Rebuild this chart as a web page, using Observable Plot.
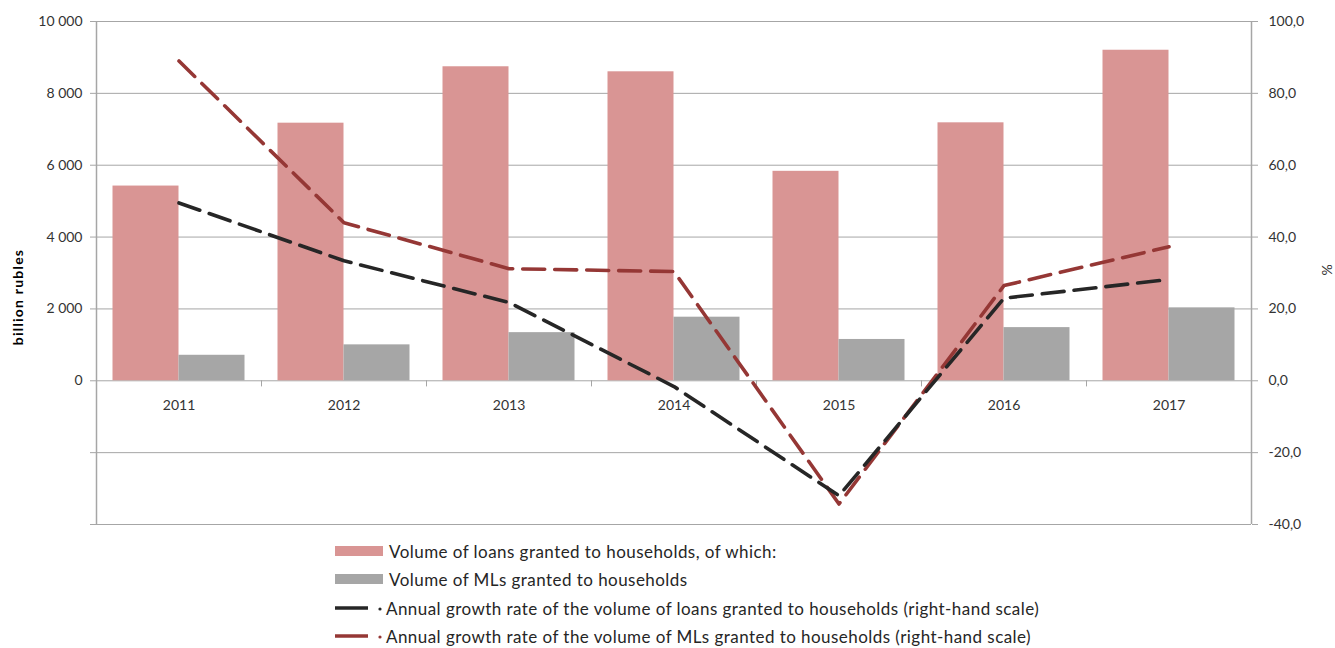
<!DOCTYPE html>
<html><head><meta charset="utf-8">
<script src="https://cdn.jsdelivr.net/npm/d3@7"></script>
<script src="https://cdn.jsdelivr.net/npm/@observablehq/plot@0.6"></script>
<style>
body{margin:0;background:#fff;font-family:Lato, "Open Sans", sans-serif;}
#wrap{position:relative;width:1335px;height:648px;overflow:hidden;}
.leg{position:absolute;left:335px;display:flex;align-items:center;font-size:17px;letter-spacing:0.45px;color:#262626;height:20px;white-space:nowrap;}
.leg svg{flex:none;margin-right:6px;}
</style></head><body><div id="wrap"><div id="chart"></div>
<div id="legend"></div>
</div>
<script>
const years = [2011, 2012, 2013, 2014, 2015, 2016, 2017];
const loans = [5420, 7170, 8740, 8600, 5830, 7180, 9200];
const mls = [710, 1000, 1340, 1770, 1150, 1480, 2030];
const growthLoans = [49.5, 33.4, 21.8, -1.6, -32.0, 23.0, 28.2];
const growthMls = [89.0, 44.0, 31.2, 30.4, -34.3, 26.5, 37.3];
const leftTicks = [-4000, -2000, 0, 2000, 4000, 6000, 8000, 10000];
const legendLabels = [
  "Volume of loans granted to households, of which:",
  "Volume of MLs granted to households",
  "Annual growth rate of the volume of loans granted to households (right-hand scale)",
  "Annual growth rate of the volume of MLs granted to households (right-hand scale)"
];
const colors = {loans: "#d99594", mls: "#a6a6a6", gLoans: "#262626", gMls: "#953735"};

const rows = years.map((y, i) => ({year: y, i, loans: loans[i], mls: mls[i], gl: growthLoans[i], gm: growthMls[i]}));
const grid = "#a6a6a6";
const fmtLeft = d => d < 0 ? "" : d3.format(",")(d).replace(/,/g, "\u00a0");
const fmtRight = d => (d / 100).toFixed(1).replace(".", ",");

const chart = Plot.plot({
  width: 1335, height: 535,
  marginLeft: 96, marginRight: 84, marginTop: 21, marginBottom: 11,
  style: {fontFamily: "Lato, 'Open Sans', sans-serif", color: "#333"},
  x: {domain: [0, 7], axis: null},
  y: {domain: [-4000, 10000], axis: null},
  marks: [
    Plot.gridY(leftTicks, {stroke: grid, strokeOpacity: 1}),
    Plot.ruleX([0, 7], {stroke: grid, strokeWidth: 1.5}),
    Plot.ruleX(d3.range(1, 7), {y1: 0, y2: -170, stroke: grid}),
    Plot.axisY(leftTicks, {anchor: "left", tickFormat: fmtLeft, tickSize: 6, tickPadding: 8, stroke: grid, fontSize: 14, fill: "#333", label: null}),
    Plot.axisY(leftTicks, {anchor: "right", tickFormat: fmtRight, tickSize: 6, tickPadding: 11, stroke: grid, fontSize: 14, fill: "#333", label: null}),
    Plot.rectY(rows, {x1: d => d.i + 0.1, x2: d => d.i + 0.5, y1: 0, y2: "loans", fill: colors.loans}),
    Plot.rectY(rows, {x1: d => d.i + 0.5, x2: d => d.i + 0.9, y1: 0, y2: "mls", fill: colors.mls}),
    Plot.text(rows, {x: d => d.i + 0.5, y: 0, text: d => String(d.year), dy: 25, fontSize: 14, fill: "#333"}),
    Plot.lineY(rows, {x: d => d.i + 0.5, y: d => d.gm * 100, stroke: colors.gMls, strokeWidth: 3.6, strokeDasharray: "22,10"}),
    Plot.lineY(rows, {x: d => d.i + 0.5, y: d => d.gl * 100, stroke: colors.gLoans, strokeWidth: 3.6, strokeDasharray: "22,10"}),
    Plot.text(["billion rubles"], {frameAnchor: "left", textAnchor: "middle", dx: -78, dy: 24, rotate: -90, fontWeight: "bold", fontSize: 14, fill: "#000"}),
    Plot.text(["%"], {frameAnchor: "right", textAnchor: "middle", dx: 76, dy: -3, rotate: -90, fontSize: 14, fill: "#333"})
  ]
});
d3.select(chart).selectAll("text").filter(function() { return this.textContent === "billion rubles"; }).style("letter-spacing", "1.2px");
document.getElementById("chart").appendChild(chart);

const legend = document.getElementById("legend");
const tops = [541, 569, 598, 626];
const kinds = ["rect", "rect", "line", "line"];
const swColors = [colors.loans, colors.mls, colors.gLoans, colors.gMls];
legendLabels.forEach((t, k) => {
  const div = document.createElement("div");
  div.className = "leg";
  div.style.top = tops[k] + "px";
  let sw;
  if (kinds[k] === "rect") {
    sw = `<svg width="48" height="12"><rect x="0" y="1" width="48" height="10" fill="${swColors[k]}"/></svg>`;
  } else {
    sw = `<svg width="48" height="12" style="margin-right:3px"><line x1="0" x2="33" y1="6" y2="6" stroke="${swColors[k]}" stroke-width="3.5"/><circle cx="45" cy="7" r="1.6" fill="${swColors[k]}"/></svg>`;
  }
  div.innerHTML = sw + `<span>${t}</span>`;
  legend.appendChild(div);
});
</script>
</body></html>
